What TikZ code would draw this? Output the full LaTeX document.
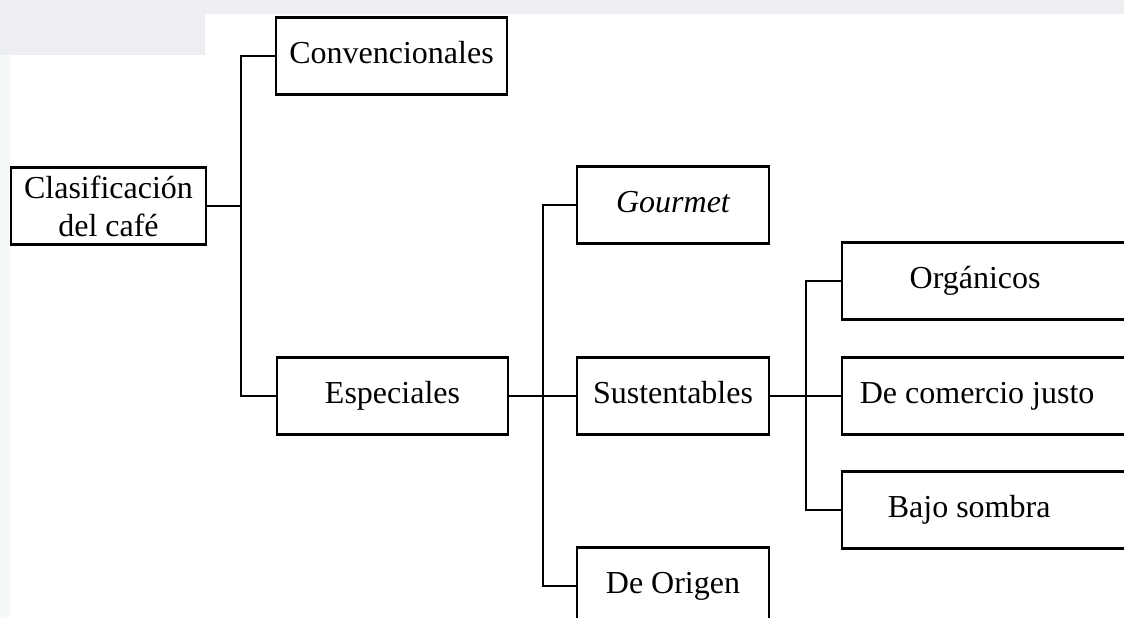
\documentclass[tikz,border=0pt]{standalone}
\usepackage{fontspec}
\setmainfont{Liberation Serif}
\definecolor{haze}{RGB}{236,238,241}
\definecolor{hazelight}{RGB}{246,249,250}
\begin{document}
\begin{tikzpicture}[x=1pt,y=-1pt,
  box/.style={draw, line width=2.3pt, minimum height=77pt, inner sep=0pt,
    text height=22pt, text depth=7pt,
    font=\fontsize{32}{36}\selectfont, align=center},
  link/.style={line width=2.1pt}]
\useasboundingbox (0,0) rectangle (1124,618);
% faint background shading
\fill[haze] (0,0) rectangle (1124,14);
\fill[haze] (0,0) rectangle (205,55);
\fill[hazelight] (0,55) rectangle (10,618);

% boxes
\node[box, minimum width=195pt, text height=, text depth=,
  font=\fontsize{32}{38}\selectfont] (root) at (108.5,206) {Clasificación\\del café};
\node[box, minimum width=231pt] (conv) at (391.5,56) {Convencionales};
\node[box, minimum width=231pt] (esp) at (392.5,396) {Especiales};
\node[box, minimum width=192pt] (gour) at (673,205) {\itshape Gourmet};
\node[box, minimum width=192pt] (sus) at (673,396) {Sustentables};
\node[box, minimum width=192pt] (orig) at (673,586) {De Origen};
\node[box, minimum width=300pt, anchor=west] (org) at (841,281) {\hspace*{-34pt}Orgánicos};
\node[box, minimum width=300pt, anchor=west] (com) at (841,396) {\hspace*{-30pt}De comercio justo};
\node[box, minimum width=300pt, anchor=west] (baj) at (841,510) {\hspace*{-46pt}Bajo sombra};

% branch columns
\coordinate (b1) at (241,0);
\coordinate (b2) at (543,0);
\coordinate (b3) at (806,0);

% connectors
\draw[link] (root.east) -- (root.east -| b1);
\draw[link] (conv.west) -| (b1 |- esp.west) -- (esp.west);
\draw[link] (esp.east) -- (sus.west);
\draw[link] (gour.west) -| (b2 |- orig.west) -- (orig.west);
\draw[link] (sus.east) -- (com.west);
\draw[link] (org.west) -| (b3 |- baj.west) -- (baj.west);
\end{tikzpicture}
\end{document}
